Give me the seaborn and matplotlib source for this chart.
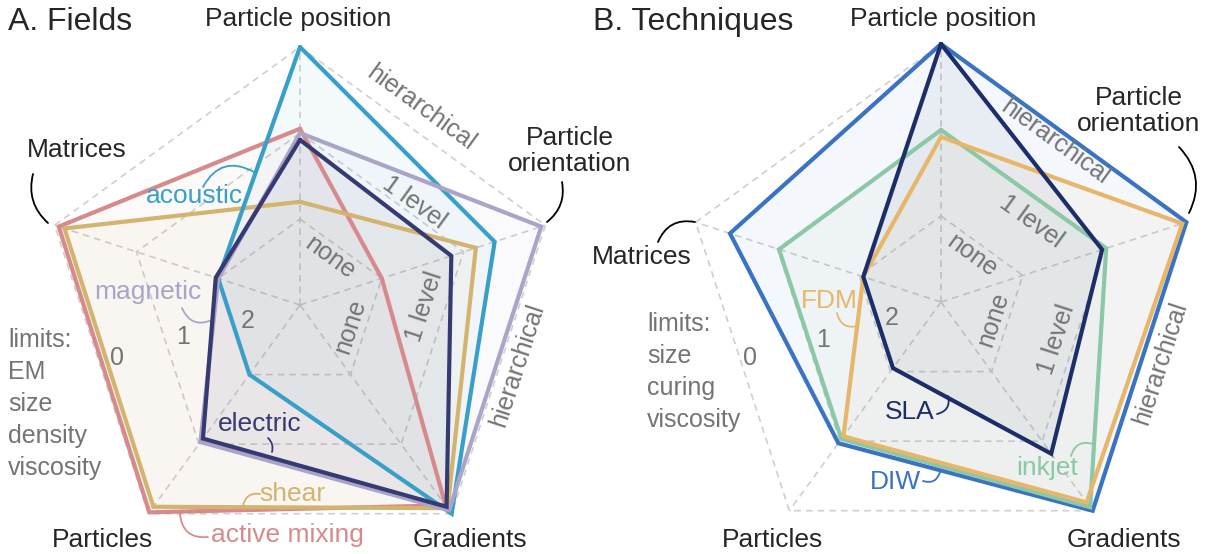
import matplotlib
matplotlib.use("Agg")
import matplotlib.pyplot as plt
import numpy as np
import seaborn as sns

# Spokes, clockwise from the top
AXES = ["Particle position", "Particle orientation", "Gradients", "Particles", "Matrices"]
LEVELS = [1, 2, 3]

# A. Fields (values on the 0-3 ring scale, order as AXES)
FIELDS = ["active mixing", "shear", "acoustic", "magnetic", "electric"]
ACTIVE_MIXING = [2.05, 1.0, 2.88, 2.98, 2.95]
SHEAR = [1.2, 2.15, 2.92, 2.9, 2.88]
ACOUSTIC = [3.0, 2.38, 3.0, 1.0, 1.0]
MAGNETIC = [2.0, 2.95, 2.95, 1.97, 1.0]
ELECTRIC = [1.92, 1.85, 2.9, 1.92, 1.03]
FIELD_VALUES = [ACTIVE_MIXING, SHEAR, ACOUSTIC, MAGNETIC, ELECTRIC]
FIELD_COLORS = ["#d68a8c", "#d2b46e", "#38a0c8", "#aaa5c8", "#363a73"]

# B. Techniques
TECHNIQUES = ["DIW", "inkjet", "FDM", "SLA"]
DIW = [3.0, 3.0, 3.0, 2.03, 2.58]
INKJET = [2.0, 2.02, 2.95, 1.97, 1.98]
FDM = [1.92, 2.95, 2.88, 1.93, 0.95]
SLA = [3.0, 1.97, 2.18, 0.95, 0.95]
TECH_VALUES = [DIW, INKJET, FDM, SLA]
TECH_COLORS = ["#3a73c3", "#8cc8a5", "#e8b66a", "#1c2e6a"]

SCALE_LABELS = ["none", "1 level", "hierarchical"]
LIMIT_LABELS = ["2", "1", "0"]

ANGLES = np.deg2rad([90, 18, -54, -126, 162])
UNIT = 86  # px per ring
GREY = "#747474"

sns.set_style("white")
plt.rcParams["font.family"] = ["Liberation Sans", "DejaVu Sans"]
plt.rcParams["lines.solid_joinstyle"] = "miter"

fig = plt.figure(figsize=(12.08, 5.54), dpi=100)
ax = fig.add_axes([0, 0, 1, 1])
ax.set_xlim(0, 1208)
ax.set_ylim(554, 0)
ax.axis("off")


def to_xy(center, values):
    cx, cy = center
    r = np.asarray(values, dtype=float) * UNIT
    xs = cx + r * np.cos(ANGLES)
    ys = cy - r * np.sin(ANGLES)
    return np.append(xs, xs[0]), np.append(ys, ys[0])


def draw_grid(center):
    for lev in LEVELS:
        xs, ys = to_xy(center, [lev] * 5)
        ax.plot(xs, ys, color="#cfcfcf", lw=1.2, ls=(0, (4, 3)), zorder=1)
    xs, ys = to_xy(center, [LEVELS[-1]] * 5)
    for x, y in zip(xs[:-1], ys[:-1]):
        ax.plot([center[0], x], [center[1], y], color="#cfcfcf", lw=1.2,
                ls=(0, (4, 3)), zorder=1)


def draw_series(center, values_list, colors):
    for values, color in zip(values_list, colors):
        xs, ys = to_xy(center, values)
        ax.fill(xs, ys, color=color, alpha=0.05, lw=0, zorder=2)
    for i, (values, color) in enumerate(zip(values_list, colors)):
        xs, ys = to_xy(center, values)
        sns.lineplot(x=xs, y=ys, sort=False, estimator=None, color=color,
                     lw=3, ax=ax, zorder=3 + i)


def hook(text_xy, line_xy, rad, color="black"):
    ax.annotate("", xy=line_xy, xytext=text_xy,
                arrowprops=dict(arrowstyle="-", color=color, lw=1.3,
                                shrinkA=0, shrinkB=0,
                                connectionstyle=f"arc3,rad={rad}"))


def scale_text(items, rotation):
    for txt, (x, y) in items:
        ax.text(x, y, txt, color=GREY, fontsize=18, rotation=rotation,
                ha="center", va="center", rotation_mode="anchor")


# ---------------- A. Fields ----------------
left = (300, 305)
draw_grid(left)
draw_series(left, FIELD_VALUES, FIELD_COLORS)

ax.text(8, 22, "A. Fields", fontsize=23, ha="left", va="center")
ax.text(298, 19, AXES[0], fontsize=19, ha="center", va="center")
ax.text(570, 151, "Particle\norientation", fontsize=19, ha="center",
        va="center", linespacing=1.15)
ax.text(77, 150, AXES[4], fontsize=19, ha="center", va="center")
ax.text(102, 540, AXES[3], fontsize=19, ha="center", va="center")
ax.text(470, 540, AXES[2], fontsize=19, ha="center", va="center")
hook((33, 174), (48, 223), 0.3)
hook((562, 182), (547, 222), -0.3)

scale_text(zip(SCALE_LABELS, [(330, 258), (414, 203), (421, 108)]), -36)
scale_text(zip(SCALE_LABELS, [(350, 326), (424, 307), (517, 365)]), 72)
scale_text(zip(LIMIT_LABELS, [(248, 321), (183, 337), (117, 358)]), 0)
ax.text(8, 404, "limits:\nEM\nsize\ndensity\nviscosity", color=GREY,
        fontsize=18, ha="left", va="center", linespacing=1.43)

lab = dict(fontsize=19, ha="center", va="center")
ax.text(287, 535, FIELDS[0], color=FIELD_COLORS[0], **lab)
hook((208, 537), (180, 514), -0.5, FIELD_COLORS[0])
ax.text(292, 494, FIELDS[1], color=FIELD_COLORS[1], **lab)
hook((260, 494), (243, 507), 0.5, FIELD_COLORS[1])
ax.text(194, 196, FIELDS[2], color=FIELD_COLORS[2], **lab)
hook((203, 187), (254, 172), -0.5, FIELD_COLORS[2])
ax.text(148, 292, FIELDS[3], color=FIELD_COLORS[3], **lab)
hook((182, 308), (212, 320), 0.5, FIELD_COLORS[3])
ax.text(260, 424, FIELDS[4], color=FIELD_COLORS[4], **lab)
hook((268, 438), (272, 452), -0.3, FIELD_COLORS[4])

# ---------------- B. Techniques ----------------
right = (941, 302)
draw_grid(right)
draw_series(right, TECH_VALUES, TECH_COLORS)

ax.text(593, 22, "B. Techniques", fontsize=23, ha="left", va="center")
ax.text(943, 19, AXES[0], fontsize=19, ha="center", va="center")
ax.text(1139, 111, "Particle\norientation", fontsize=19, ha="center",
        va="center", linespacing=1.15)
ax.text(642, 257, AXES[4], fontsize=19, ha="center", va="center")
ax.text(772, 540, AXES[3], fontsize=19, ha="center", va="center")
ax.text(1124, 540, AXES[2], fontsize=19, ha="center", va="center")
hook((658, 242), (695, 222), -0.4)
hook((1179, 147), (1189, 213), -0.35)

scale_text(zip(SCALE_LABELS, [(972, 256), (1031, 222), (1055, 142)]), -36)
scale_text(zip(SCALE_LABELS, [(993, 319), (1056, 340), (1160, 363)]), 72)
scale_text(zip(LIMIT_LABELS, [(892, 318), (823, 340), (750, 358)]), 0)
ax.text(647, 372, "limits:\nsize\ncuring\nviscosity", color=GREY,
        fontsize=18, ha="left", va="center", linespacing=1.43)

ax.text(895, 482, TECHNIQUES[0], color=TECH_COLORS[0], **lab)
hook((923, 481), (940, 472), 0.5, TECH_COLORS[0])
ax.text(1047, 468, TECHNIQUES[1], color=TECH_COLORS[1], **lab)
hook((1071, 456), (1093, 444), -0.5, TECH_COLORS[1])
ax.text(829, 301, TECHNIQUES[2], color=TECH_COLORS[2], **lab)
hook((837, 313), (858, 326), 0.5, TECH_COLORS[2])
ax.text(910, 412, TECHNIQUES[3], color=TECH_COLORS[3], **lab)
hook((937, 414), (948, 396), 0.5, TECH_COLORS[3])

fig.savefig("out.png", dpi=100)
